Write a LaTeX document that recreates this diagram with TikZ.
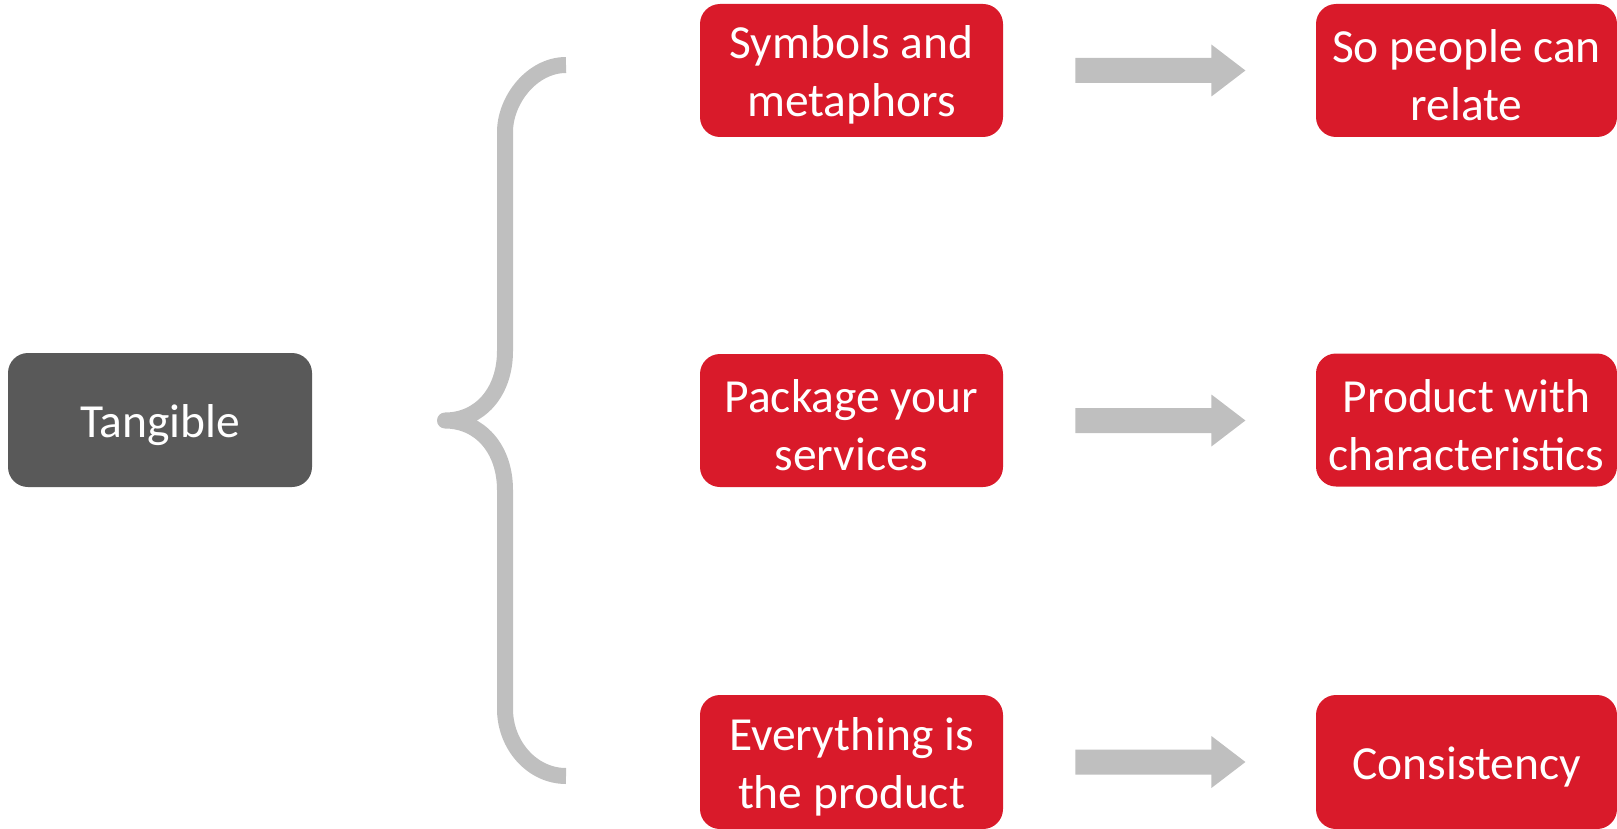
\documentclass[tikz,border=0pt]{standalone}
\usepackage{fontspec}
\setmainfont{Carlito}
\usetikzlibrary{calc}
\definecolor{boxred}{RGB}{217,26,42}
\definecolor{boxgray}{RGB}{89,89,89}
\definecolor{linkgray}{RGB}{191,191,191}
\begin{document}
\begin{tikzpicture}[x=0.5pt,y=-0.5pt,
  card/.style={rounded corners=10pt, inner sep=0pt,
    label={[cardtext]center:{#1}}},
  cardtext/.style={text=white, align=center, inner sep=0pt, yshift=-2.4pt,
    font=\fontsize{23.75pt}{29pt}\selectfont},
  topic/.style={card={#1}, fill=boxgray, minimum width=152pt, minimum height=67pt},
  item/.style={card={#1}, fill=boxred, minimum width=151.5pt, minimum height=66.5pt},
  result/.style={card={#1}, fill=boxred, minimum width=150.5pt, minimum height=66.5pt},
  flowarrow/.style={fill=linkgray},
  brace/.style={draw=linkgray, line width=8pt, line join=round, line cap=butt}]
\useasboundingbox (0,0) rectangle (1617,829);

% left topic
\node[topic={Tangible}] (tan) at (160,420) {};

% middle column
\node[item={Symbols and\\metaphors}] (s1) at (851.5,70.5) {};
\node[item={Package your\\services}] (s2) at (851.5,420.5) {};
\node[item={Everything is\\the product}, minimum height=67pt] (s3) at (851.5,762) {};

% right column
\node[result={So people can\\relate}] (r1) at (1466.5,70.5) {};
\node[result={Product with\\characteristics}] (r2) at (1466.5,420) {};
\node[result={Consistency}, minimum height=67pt] (r3) at (1466.5,762) {};

% curly brace joining the topic to the three items
\coordinate (tip) at (445,420.5);
\draw[brace] (566,65) .. controls (532,65) and (505,100) .. (505,132)
  -- (505,351) .. controls (505,392) and (480,420.5) .. (tip)
  .. controls (480,420.5) and (505,449) .. (505,490)
  -- (505,709) .. controls (505,745) and (532,776) .. (566,776);

% block arrows from each item to its result
\foreach \i in {1,2,3}{
  \fill[flowarrow] (s\i.east) ++(72,-12.5) -- ++(136,0) -- ++(0,-13.5)
    -- ++(34,26) -- ++(-34,26) -- ++(0,-13.5) -- ++(-136,0) -- cycle;
}
\end{tikzpicture}
\end{document}
